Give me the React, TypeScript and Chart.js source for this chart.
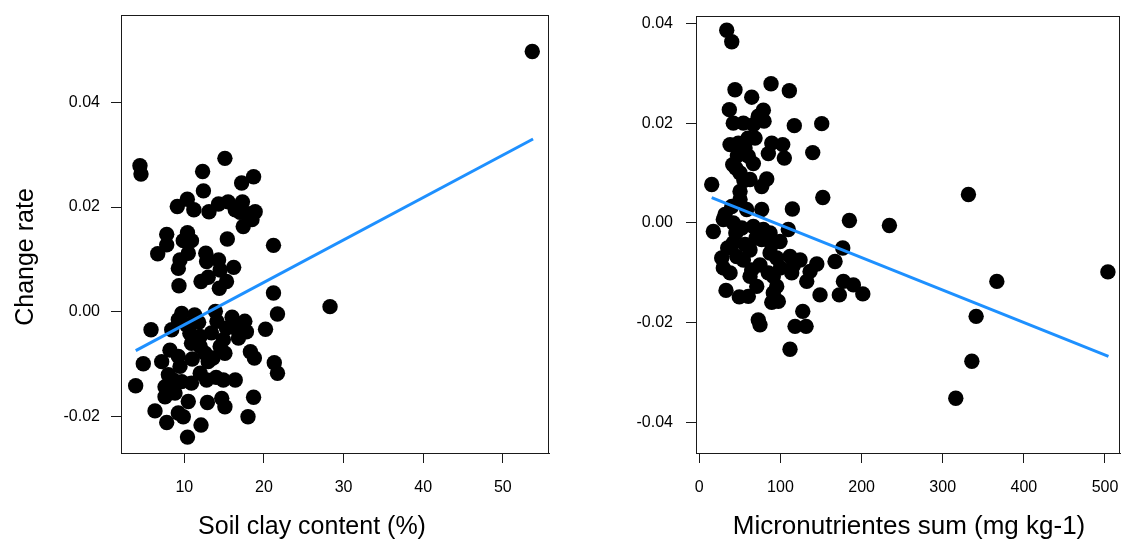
import React, { useEffect, useRef } from "react";
import { Chart, registerables } from "chart.js";

Chart.register(...registerables);

const FONT = "'Liberation Sans', Arial, Helvetica, sans-serif";

// ---------- Left panel: Soil clay content ----------
const clayX = [
  53.7, 28.3, 4.43, 4.56, 15.1, 12.3, 17.2, 18.7, 12.4, 9.12,
  10.38, 11.2, 13.1, 14.3, 15.5, 16.4, 17.3, 17.8, 18.9, 18.5,
  17.4, 15.4, 21.2, 7.79, 7.79, 6.66, 10.4, 9.87, 10.9, 10.5,
  9.46, 9.25, 12.7, 12.8, 14.3, 14.5, 16.2, 15.3, 14.4, 12.1,
  13.0, 9.33, 21.2, 21.7, 5.82, 9.67, 11.3, 13.9, 14.1, 15.3,
  16.4, 17.6, 17.8, 20.2, 8.42, 9.25, 10.3, 10.7, 10.9, 12.0,
  12.0, 12.6, 13.6, 14.5, 15.1, 14.9, 18.3, 18.8, 21.3, 21.7,
  4.85, 8.2, 7.16, 9.25, 9.46, 3.89, 8.0, 7.58, 8.6, 9.67,
  7.58, 8.83, 10.5, 10.9, 12.0, 12.8, 14.9, 16.4, 12.9, 14.7,
  15.1, 18.7, 18.0, 6.32, 7.79, 9.87, 9.25, 12.1, 10.4, 11.8,
  13.4, 16.8, 13.0, 11.0, 14.0, 17.0, 16.0,
];
const clayRate = [
  0.0497, 0.0010, 0.0279, 0.0263, 0.0293, 0.0268, 0.0246, 0.0258, 0.0231, 0.0201,
  0.0215, 0.0195, 0.0191, 0.0206, 0.0210, 0.0195, 0.0210, 0.0188, 0.0191, 0.0176,
  0.0163, 0.0139, 0.0127, 0.0148, 0.0128, 0.0111, 0.0151, 0.0136, 0.0136, 0.0112,
  0.0099, 0.0083, 0.0112, 0.0096, 0.0099, 0.0080, 0.0085, 0.0058, 0.0045, 0.0058,
  0.0066, 0.0050, 0.0036, -0.0004, -0.0034, -0.0003, -0.0006, 0.0001, -0.0018, -0.0031,
  -0.0031, -0.0018, -0.0038, -0.0033, -0.0034, -0.0015, -0.0025, -0.0041, -0.0060, -0.0047,
  -0.0066, -0.0079, -0.0088, -0.0066, -0.0079, -0.0053, -0.0076, -0.0088, -0.0097, -0.0117,
  -0.0099, -0.0073, -0.0095, -0.0085, -0.0104, -0.0141, -0.0120, -0.0143, -0.0130, -0.0133,
  -0.0162, -0.0155, -0.0171, -0.0136, -0.0117, -0.0130, -0.0130, -0.0130, -0.0173, -0.0165,
  -0.0181, -0.0163, -0.0200, -0.0189, -0.0211, -0.0200, -0.0193, -0.0216, -0.0239, -0.0020,
  -0.0040, -0.0050, -0.0095, -0.0090, -0.0125, 0.0190, -0.0010,
];
const clayLineX = [3.9, 53.8];
const clayLineY = [-0.0074, 0.0330];
const clayXTicks = [10, 20, 30, 40, 50];
const clayYTicks = [-0.02, 0.0, 0.02, 0.04];

// ---------- Right panel: Micronutrients sum ----------
const microX = [
  33.8, 40.0, 44.0, 88.4, 111.0, 64.6, 37.0, 78.9, 79.8, 41.9,
  54.3, 66.6, 72.7, 117.1, 150.9, 37.9, 48.1, 56.4, 68.7, 60.4,
  66.6, 89.3, 102.8, 85.1, 104.8, 139.8, 41.2, 50.2, 62.5, 76.9,
  83.1, 15.3, 50.2, 50.2, 40.0, 58.4, 76.9, 152.2, 114.7, 331.7,
  185.0, 234.3, 503.6, 366.7, 341.2, 335.9, 316.1, 17.3, 29.6, 41.9,
  52.3, 66.6, 78.9, 87.2, 109.7, 89.3, 99.5, 41.9, 56.4, 62.5,
  46.1, 54.3, 27.6, 29.6, 37.9, 74.8, 95.4, 111.8, 124.2, 113.9,
  91.2, 62.5, 70.8, 60.4, 49.3, 32.9, 95.4, 91.2, 89.3, 97.4,
  144.8, 136.5, 132.4, 167.3, 176.8, 177.6, 189.9, 201.5, 172.6, 148.8,
  72.7, 74.8, 127.5, 118.0, 131.6, 111.8, 115.5, 85.1, 87.2, 64.6,
  76.9, 31.7, 45.0, 55.0, 35.0, 45.0, 70.0, 100.0, 60.0, 47.0,
];
const microRate = [
  0.0386, 0.0363, 0.0267, 0.0279, 0.0265, 0.0252, 0.0227, 0.0226, 0.0204, 0.0200,
  0.0200, 0.0197, 0.0214, 0.0195, 0.0199, 0.0157, 0.0160, 0.0150, 0.0170, 0.0134,
  0.0119, 0.0160, 0.0157, 0.0139, 0.0130, 0.0141, 0.0117, 0.0100, 0.0087, 0.0073,
  0.0088, 0.0077, 0.0063, 0.0047, 0.0033, 0.0027, 0.0027, 0.0051, 0.0028, 0.0057,
  0.0005, -0.0005, -0.0098, -0.0117, -0.0187, -0.0277, -0.0351, -0.0017, 0.0007, 0.0000,
  -0.0010, -0.0007, -0.0013, -0.0020, -0.0013, -0.0043, -0.0037, -0.0040, -0.0043, -0.0054,
  -0.0067, -0.0074, -0.0070, -0.0090, -0.0100, -0.0084, -0.0070, -0.0067, -0.0074, -0.0100,
  -0.0107, -0.0107, -0.0127, -0.0147, -0.0148, -0.0135, -0.0127, -0.0140, -0.0159, -0.0157,
  -0.0082, -0.0097, -0.0117, -0.0077, -0.0050, -0.0117, -0.0124, -0.0142, -0.0144, -0.0144,
  -0.0194, -0.0204, -0.0177, -0.0207, -0.0207, -0.0253, -0.0087, -0.0100, -0.0060, -0.0094,
  -0.0033, 0.0017, 0.0110, 0.0085, -0.0050, -0.0020, -0.0030, -0.0090, 0.0170, 0.0135,
];
const microLineX = [15.3, 504.3];
const microLineY = [0.0051, -0.0267];
const microXTicks = [0, 100, 200, 300, 400, 500];
const microYTicks = [-0.04, -0.02, 0.0, 0.02, 0.04];

type PanelProps = {
  xs: number[];
  ys: number[];
  lineX: number[];
  lineY: number[];
  xTicks: number[];
  yTicks: number[];
  xMin: number;
  xMax: number;
  yMin: number;
  yMax: number;
  width: number;
  left: number;
  areaLeft: number;
  areaRight: number;
  areaTop: number;
  areaBottom: number;
  yPad: number;
  xTitle: string;
  xTitleX: number;
  yTitle?: string;
  yTitleX?: number;
  yTitleY?: number;
  titleSize: number;
  tickSize: number;
};

function Panel(p: PanelProps) {
  const ref = useRef<HTMLCanvasElement | null>(null);
  useEffect(() => {
    if (!ref.current) return;
    const H = 540;
    const boxPlugin = {
      id: "boxAndTitles",
      afterDraw(chart: any) {
        const { ctx, chartArea } = chart;
        ctx.save();
        ctx.strokeStyle = "#1a1a1a";
        ctx.lineWidth = 1;
        ctx.strokeRect(
          Math.round(chartArea.left) + 0.5,
          Math.round(chartArea.top) + 0.5,
          Math.round(chartArea.right - chartArea.left) - 1,
          Math.round(chartArea.bottom - chartArea.top)
        );
        ctx.fillStyle = "#000";
        ctx.font = `${p.titleSize}px ${FONT}`;
        ctx.textAlign = "center";
        ctx.textBaseline = "alphabetic";
        ctx.fillText(p.xTitle, p.xTitleX, 534);
        if (p.yTitle) {
          ctx.translate(p.yTitleX as number, p.yTitleY as number);
          ctx.rotate(-Math.PI / 2);
          ctx.fillText(p.yTitle, 0, 0);
        }
        ctx.restore();
      },
    };
    const zeroPad = (s: any) => {
      s.paddingTop = 0;
      s.paddingBottom = 0;
      s.paddingLeft = 0;
      s.paddingRight = 0;
    };
    const chart = new Chart(ref.current, {
      type: "scatter",
      data: {
        datasets: [
          {
            type: "line",
            data: p.lineX.map((x, i) => ({ x, y: p.lineY[i] })),
            borderColor: "#1E90FF",
            borderWidth: 3,
            pointRadius: 0,
            fill: false,
            showLine: true,
            clip: false,
            order: 0,
          } as any,
          {
            type: "scatter",
            data: p.xs.map((x, i) => ({ x, y: p.ys[i] })),
            backgroundColor: "#000",
            borderWidth: 0,
            pointRadius: 7.7,
            pointHoverRadius: 7.7,
            clip: false,
            order: 1,
          } as any,
        ],
      },
      options: {
        responsive: false,
        animation: false,
        events: [],
        layout: {
          autoPadding: false,
          padding: {
            left: 0,
            top: p.areaTop,
            right: p.width - p.areaRight,
            bottom: 0,
          },
        },
        plugins: {
          legend: { display: false },
          tooltip: { enabled: false },
          title: { display: false },
        },
        scales: {
          x: {
            type: "linear",
            position: "bottom",
            min: p.xMin,
            max: p.xMax,
            afterBuildTicks: (s: any) => {
              s.ticks = p.xTicks.map((v) => ({ value: v }));
            },
            afterFit: (s: any) => {
              s.height = H - p.areaBottom;
              zeroPad(s);
            },
            grid: {
              display: true,
              drawOnChartArea: false,
              drawTicks: true,
              tickLength: 10,
              color: "#1a1a1a",
              lineWidth: 1,
            },
            border: { display: true, color: "#1a1a1a", width: 1 },
            ticks: {
              color: "#000",
              font: { family: FONT, size: p.tickSize },
              padding: 15,
              maxRotation: 0,
              autoSkip: false,
              callback: (v: any) => String(v),
            },
          },
          y: {
            type: "linear",
            position: "left",
            min: p.yMin,
            max: p.yMax,
            afterBuildTicks: (s: any) => {
              s.ticks = p.yTicks.map((v) => ({ value: v }));
            },
            afterFit: (s: any) => {
              s.width = p.areaLeft;
              zeroPad(s);
            },
            grid: {
              display: true,
              drawOnChartArea: false,
              drawTicks: true,
              tickLength: 10,
              color: "#1a1a1a",
              lineWidth: 1,
            },
            border: { display: true, color: "#1a1a1a", width: 1 },
            ticks: {
              color: "#000",
              font: { family: FONT, size: p.tickSize },
              padding: p.yPad,
              autoSkip: false,
              callback: (v: any) => Number(v).toFixed(2),
            },
          },
        },
      },
      plugins: [boxPlugin],
    } as any);
    return () => chart.destroy();
  }, []);
  return (
    <canvas
      ref={ref}
      width={p.width}
      height={540}
      style={{ position: "absolute", left: p.left, top: 0, width: p.width, height: 540 }}
    />
  );
}

export default function App() {
  return (
    <div style={{ position: "absolute", left: 0, top: 0, width: 1121, height: 540, background: "#fff", overflow: "hidden" }}>
      <Panel
        xs={clayX}
        ys={clayRate}
        lineX={clayLineX}
        lineY={clayLineY}
        xTicks={clayXTicks}
        yTicks={clayYTicks}
        xMin={2.05}
        xMax={55.8}
        yMin={-0.02693}
        yMax={0.05666}
        width={560}
        left={0}
        areaLeft={121}
        areaRight={549}
        areaTop={15}
        areaBottom={453}
        yPad={11}
        xTitle="Soil clay content (%)"
        xTitleX={312}
        yTitle="Change rate"
        yTitleX={33}
        yTitleY={257}
        titleSize={25}
        tickSize={16}
      />
      <Panel
        xs={microX}
        ys={microRate}
        lineX={microLineX}
        lineY={microLineY}
        xTicks={microXTicks}
        yTicks={microYTicks}
        xMin={-4.07}
        xMax={518.5}
        yMin={-0.04607}
        yMax={0.04146}
        width={561}
        left={560}
        areaLeft={136}
        areaRight={560}
        areaTop={16}
        areaBottom={453}
        yPad={13}
        xTitle="Micronutrientes sum (mg kg-1)"
        xTitleX={349}
        titleSize={26}
        tickSize={16}
      />
    </div>
  );
}
